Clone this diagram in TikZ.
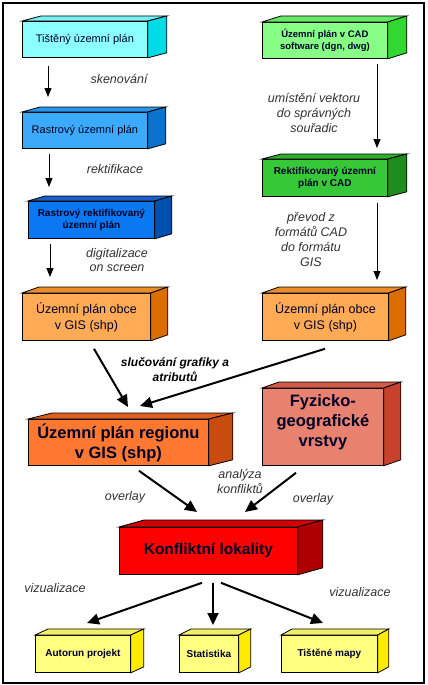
\documentclass[tikz,border=0pt]{standalone}
\usepackage{fontspec}
\setmainfont{Liberation Sans}
\usetikzlibrary{arrows.meta}

\definecolor{azurA}{RGB}{140,255,255}
\definecolor{azurAt}{RGB}{120,240,245}
\definecolor{azurAs}{RGB}{0,220,230}
\definecolor{modrB}{RGB}{60,170,250}
\definecolor{modrBt}{RGB}{40,150,235}
\definecolor{modrBs}{RGB}{10,115,205}
\definecolor{modrC}{RGB}{10,120,240}
\definecolor{modrCt}{RGB}{25,95,200}
\definecolor{modrCs}{RGB}{0,80,175}
\definecolor{zelA}{RGB}{135,255,135}
\definecolor{zelAt}{RGB}{100,235,100}
\definecolor{zelAs}{RGB}{50,215,50}
\definecolor{zelB}{RGB}{55,200,55}
\definecolor{zelBt}{RGB}{45,175,45}
\definecolor{zelBs}{RGB}{30,140,30}
\definecolor{oranA}{RGB}{255,170,85}
\definecolor{oranAt}{RGB}{235,140,40}
\definecolor{oranAs}{RGB}{220,110,0}
\definecolor{oranB}{RGB}{255,120,50}
\definecolor{oranBt}{RGB}{225,95,30}
\definecolor{oranBs}{RGB}{200,75,15}
\definecolor{losos}{RGB}{232,130,110}
\definecolor{lososT}{RGB}{210,90,70}
\definecolor{lososS}{RGB}{200,65,45}
\definecolor{cerv}{RGB}{255,0,0}
\definecolor{cervT}{RGB}{210,0,0}
\definecolor{cervS}{RGB}{175,0,0}
\definecolor{zlut}{RGB}{255,255,128}
\definecolor{zlutT}{RGB}{240,240,100}
\definecolor{zlutS}{RGB}{255,235,0}
\definecolor{popis}{RGB}{50,50,50}

\tikzset{
  blok/.style={draw, line width=0.8pt, align=center, anchor=north west,
    inner sep=1pt, text=black!85!blue},
  malytext/.style={font=\fontsize{11}{13}\selectfont},
  maly/.style={blok, font=\fontsize{10}{12}\selectfont\bfseries},
  stredni/.style={blok, font=\fontsize{12.5}{16}\selectfont},
  velky/.style={blok, font=\fontsize{16.5}{20}\selectfont\bfseries},
  popisek/.style={align=center, text=popis, font=\fontsize{12.5}{15}\selectfont\itshape},
  tenka/.style={line width=0.8pt, -{Triangle[length=9pt,width=7pt]}},
  silna/.style={line width=2pt, -{Triangle[length=12pt,width=11pt]}},
}

% horni a bocni stena kvadru
\newcommand{\hloubka}[5]{%
  \draw[line width=0.8pt, fill=#4] (#1.north west) -- ++(#2,-#3)
    -- ([shift={(#2,-#3)}]#1.north east) -- (#1.north east) -- cycle;
  \draw[line width=0.8pt, fill=#5] (#1.north east) -- ++(#2,-#3)
    -- ([shift={(#2,-#3)}]#1.south east) -- (#1.south east) -- cycle;
}

\begin{document}
\begin{tikzpicture}[x=1pt,y=-1pt]
  \useasboundingbox (0,0) rectangle (428,685);
  \draw[line width=1.5pt] (3,3) rectangle (424,683);

  % leva vetev
  \node[blok, malytext, fill=azurA, minimum width=125pt, minimum height=36pt] (tisk) at (22,21) {Tištěný územní plán};
  \hloubka{tisk}{19}{5}{azurAt}{azurAs}
  \node[blok, malytext, fill=modrB, minimum width=125pt, minimum height=36pt] (rastr) at (22,112) {Rastrový územní plán};
  \hloubka{rastr}{18}{5}{modrBt}{modrBs}
  \node[maly, fill=modrC, minimum width=126pt, minimum height=37pt] (rrekt) at (28,201) {Rastrový rektifikovaný\\územní plán};
  \hloubka{rrekt}{17}{5}{modrCt}{modrCs}
  \node[stredni, fill=oranA, minimum width=128pt, minimum height=47pt] (obceL) at (22,293) {Územní plán obce\\v GIS (shp)};
  \hloubka{obceL}{17}{6}{oranAt}{oranAs}

  % prava vetev
  \node[maly, font=\fontsize{9.5}{12}\selectfont\bfseries, fill=zelA, minimum width=125pt, minimum height=36pt] (cad) at (262,22) {Územní plán v CAD\\software (dgn, dwg)};
  \hloubka{cad}{19}{6}{zelAt}{zelAs}
  \node[maly, fill=zelB, minimum width=125pt, minimum height=37pt] (rcad) at (262,159) {Rektifikovaný územní\\plán v CAD};
  \hloubka{rcad}{19}{5}{zelBt}{zelBs}
  \node[stredni, fill=oranA, minimum width=126pt, minimum height=47pt] (obceR) at (262,293) {Územní plán obce\\v GIS (shp)};
  \hloubka{obceR}{17}{6}{oranAt}{oranAs}

  % spojeni
  \node[velky, fill=oranB, minimum width=180pt, minimum height=46pt] (region) at (28,419) {Územní plán regionu\\v GIS (shp)};
  \hloubka{region}{24}{6}{oranBt}{oranBs}
  \node[velky, fill=losos, minimum width=121pt, minimum height=77pt] (fyz) at (262,388) {Fyzicko-\\geografické\\vrstvy\\[-8pt]\mbox{}};
  \hloubka{fyz}{17}{6}{lososT}{lososS}
  \node[blok, font=\fontsize{15.5}{18}\selectfont\bfseries, fill=cerv, minimum width=178pt, minimum height=47pt] (konf) at (119,527) {Konfliktní lokality};
  \hloubka{konf}{25}{7}{cervT}{cervS}

  % vystupy
  \node[maly, fill=zlut, minimum width=95pt, minimum height=37pt] (auto) at (35,635) {Autorun projekt};
  \hloubka{auto}{13}{6}{zlutT}{zlutS}
  \node[maly, fill=zlut, minimum width=59pt, minimum height=37pt] (stat) at (179,635) {Statistika};
  \hloubka{stat}{12}{6}{zlutT}{zlutS}
  \node[maly, fill=zlut, minimum width=96pt, minimum height=37pt] (tmapy) at (281,635) {Tištěné mapy};
  \hloubka{tmapy}{11}{6}{zlutT}{zlutS}

  % sipky
  \draw[tenka] ([shift={(26,8)}]tisk.south west) -- ([shift={(26,-15)}]rastr.north west);
  \draw[tenka] ([shift={(27,5)}]rastr.south west) -- ([shift={(21,-14)}]rrekt.north west);
  \draw[tenka] ([shift={(22,5)}]rrekt.south west) -- ([shift={(28,-16)}]obceL.north west);
  \draw[tenka] ([shift={(115,5)}]cad.south west) -- ([shift={(115,-11)}]rcad.north west);
  \draw[tenka] ([shift={(115,6)}]rcad.south west) -- ([shift={(115,-13)}]obceR.north west);
  \draw[silna] ([shift={(72,8)}]obceL.south west) -- ([shift={(100,-12)}]region.north west);
  \draw[silna] ([shift={(63,8)}]obceR.south west) -- ([shift={(112,-13)}]region.north west);
  \draw[silna] ([shift={(111,5)}]region.south west) -- ([shift={(78,-15)}]konf.north west);
  \draw[silna] ([shift={(34,7)}]fyz.south west) -- ([shift={(126,-15)}]konf.north west);
  \draw[silna] ([shift={(83,8)}]konf.south west) -- ([shift={(52,-12)}]auto.north west);
  \draw[silna] ([shift={(94,8)}]konf.south west) -- ([shift={(34,-10)}]stat.north west);
  \draw[silna] ([shift={(102,8)}]konf.south west) -- ([shift={(42,-12)}]tmapy.north west);

  % popisky
  \node[popisek] (skn) at (119,79) {skenování};
  \node[popisek] (rek) at (115,169) {rektifikace};
  \node[popisek, font=\fontsize{12.5}{14}\selectfont\itshape] (dig) at (117,260) {digitalizace\\on screen};
  \node[popisek] (umi) at (314,113) {umístění vektoru\\do správných\\souřadic};
  \node[popisek] (pre) at (311,240) {převod z\\formátů CAD\\do formátu\\GIS};
  \node[popisek, font=\fontsize{12}{15}\selectfont\bfseries\itshape, text=black] (slu) at (175,370) {slučování grafiky a\\atributů};
  \node[popisek] (ovl) at (125,497) {overlay};
  \node[popisek] (ovr) at (313,499) {overlay};
  \node[popisek] (ana) at (240,481) {analýza\\konfliktů};
  \node[popisek] (vzl) at (55,588) {vizualizace};
  \node[popisek] (vzr) at (360,592) {vizualizace};
\end{tikzpicture}
\end{document}
